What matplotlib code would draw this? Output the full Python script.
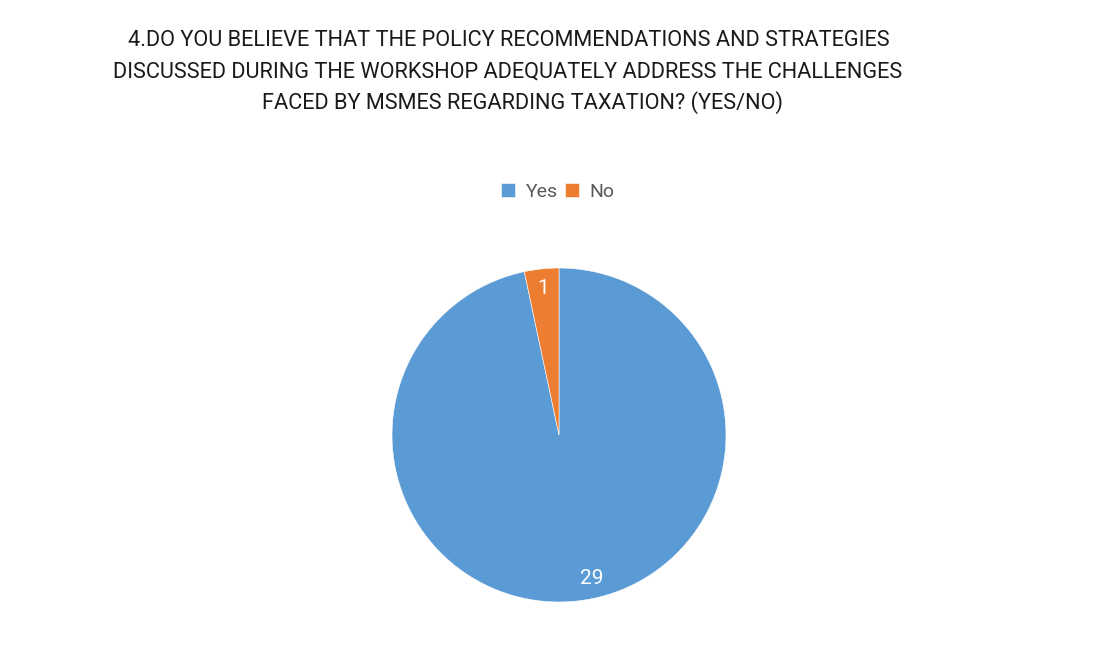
import numpy as np
import matplotlib
matplotlib.use("Agg")
import matplotlib.pyplot as plt

plt.rcParams['font.family'] = ['Roboto', 'DejaVu Sans']

# survey answers
answers = ['Yes', 'No']
counts = [29, 1]
colors = ['#5B9BD5', '#ED7D31']

title_lines = [
    "4.DO YOU BELIEVE THAT THE POLICY RECOMMENDATIONS AND STRATEGIES",
    "DISCUSSED DURING THE WORKSHOP ADEQUATELY ADDRESS THE CHALLENGES",
    "FACED BY MSMES REGARDING TAXATION? (YES/NO)",
]
title_x = [509, 508, 523]

W, H = 1112, 648
fig = plt.figure(figsize=(W / 100, H / 100), dpi=100)
fig.patch.set_facecolor('white')

# title, one line at a time
for i, line in enumerate(title_lines):
    fig.text(title_x[i] / W, 1 - (41 + 31 * i) / H, line,
             ha='center', va='center', fontsize=15.7, color='#1a1a1a')

ax = fig.add_axes([0.3525, 0.071, 0.3004, 0.5154])
wedges, texts, autotexts = ax.pie(
    counts, colors=colors, startangle=90, counterclock=False,
    autopct=lambda p: '{:.0f}'.format(p * sum(counts) / 100),
    pctdistance=0.88, wedgeprops=dict(edgecolor='white', linewidth=0.4))
for t in autotexts:
    t.set_color('white')
    t.set_fontsize(15)
# the big slice's label sits a bit right of the bottom
ang = np.deg2rad(-77)
autotexts[0].set_position((0.88 * np.cos(ang), 0.88 * np.sin(ang)))
ax.set_xlim(-1, 1)
ax.set_ylim(-1, 1)
ax.set_aspect('equal')

fig.legend(wedges, answers, loc='center', bbox_to_anchor=(558 / W, 1 - 192 / H),
           ncol=2, frameon=False, fontsize=14, handlelength=0.7, handleheight=0.7,
           handletextpad=0.55, columnspacing=0.4, labelcolor='#595959')

fig.savefig('out.png', dpi=100)
